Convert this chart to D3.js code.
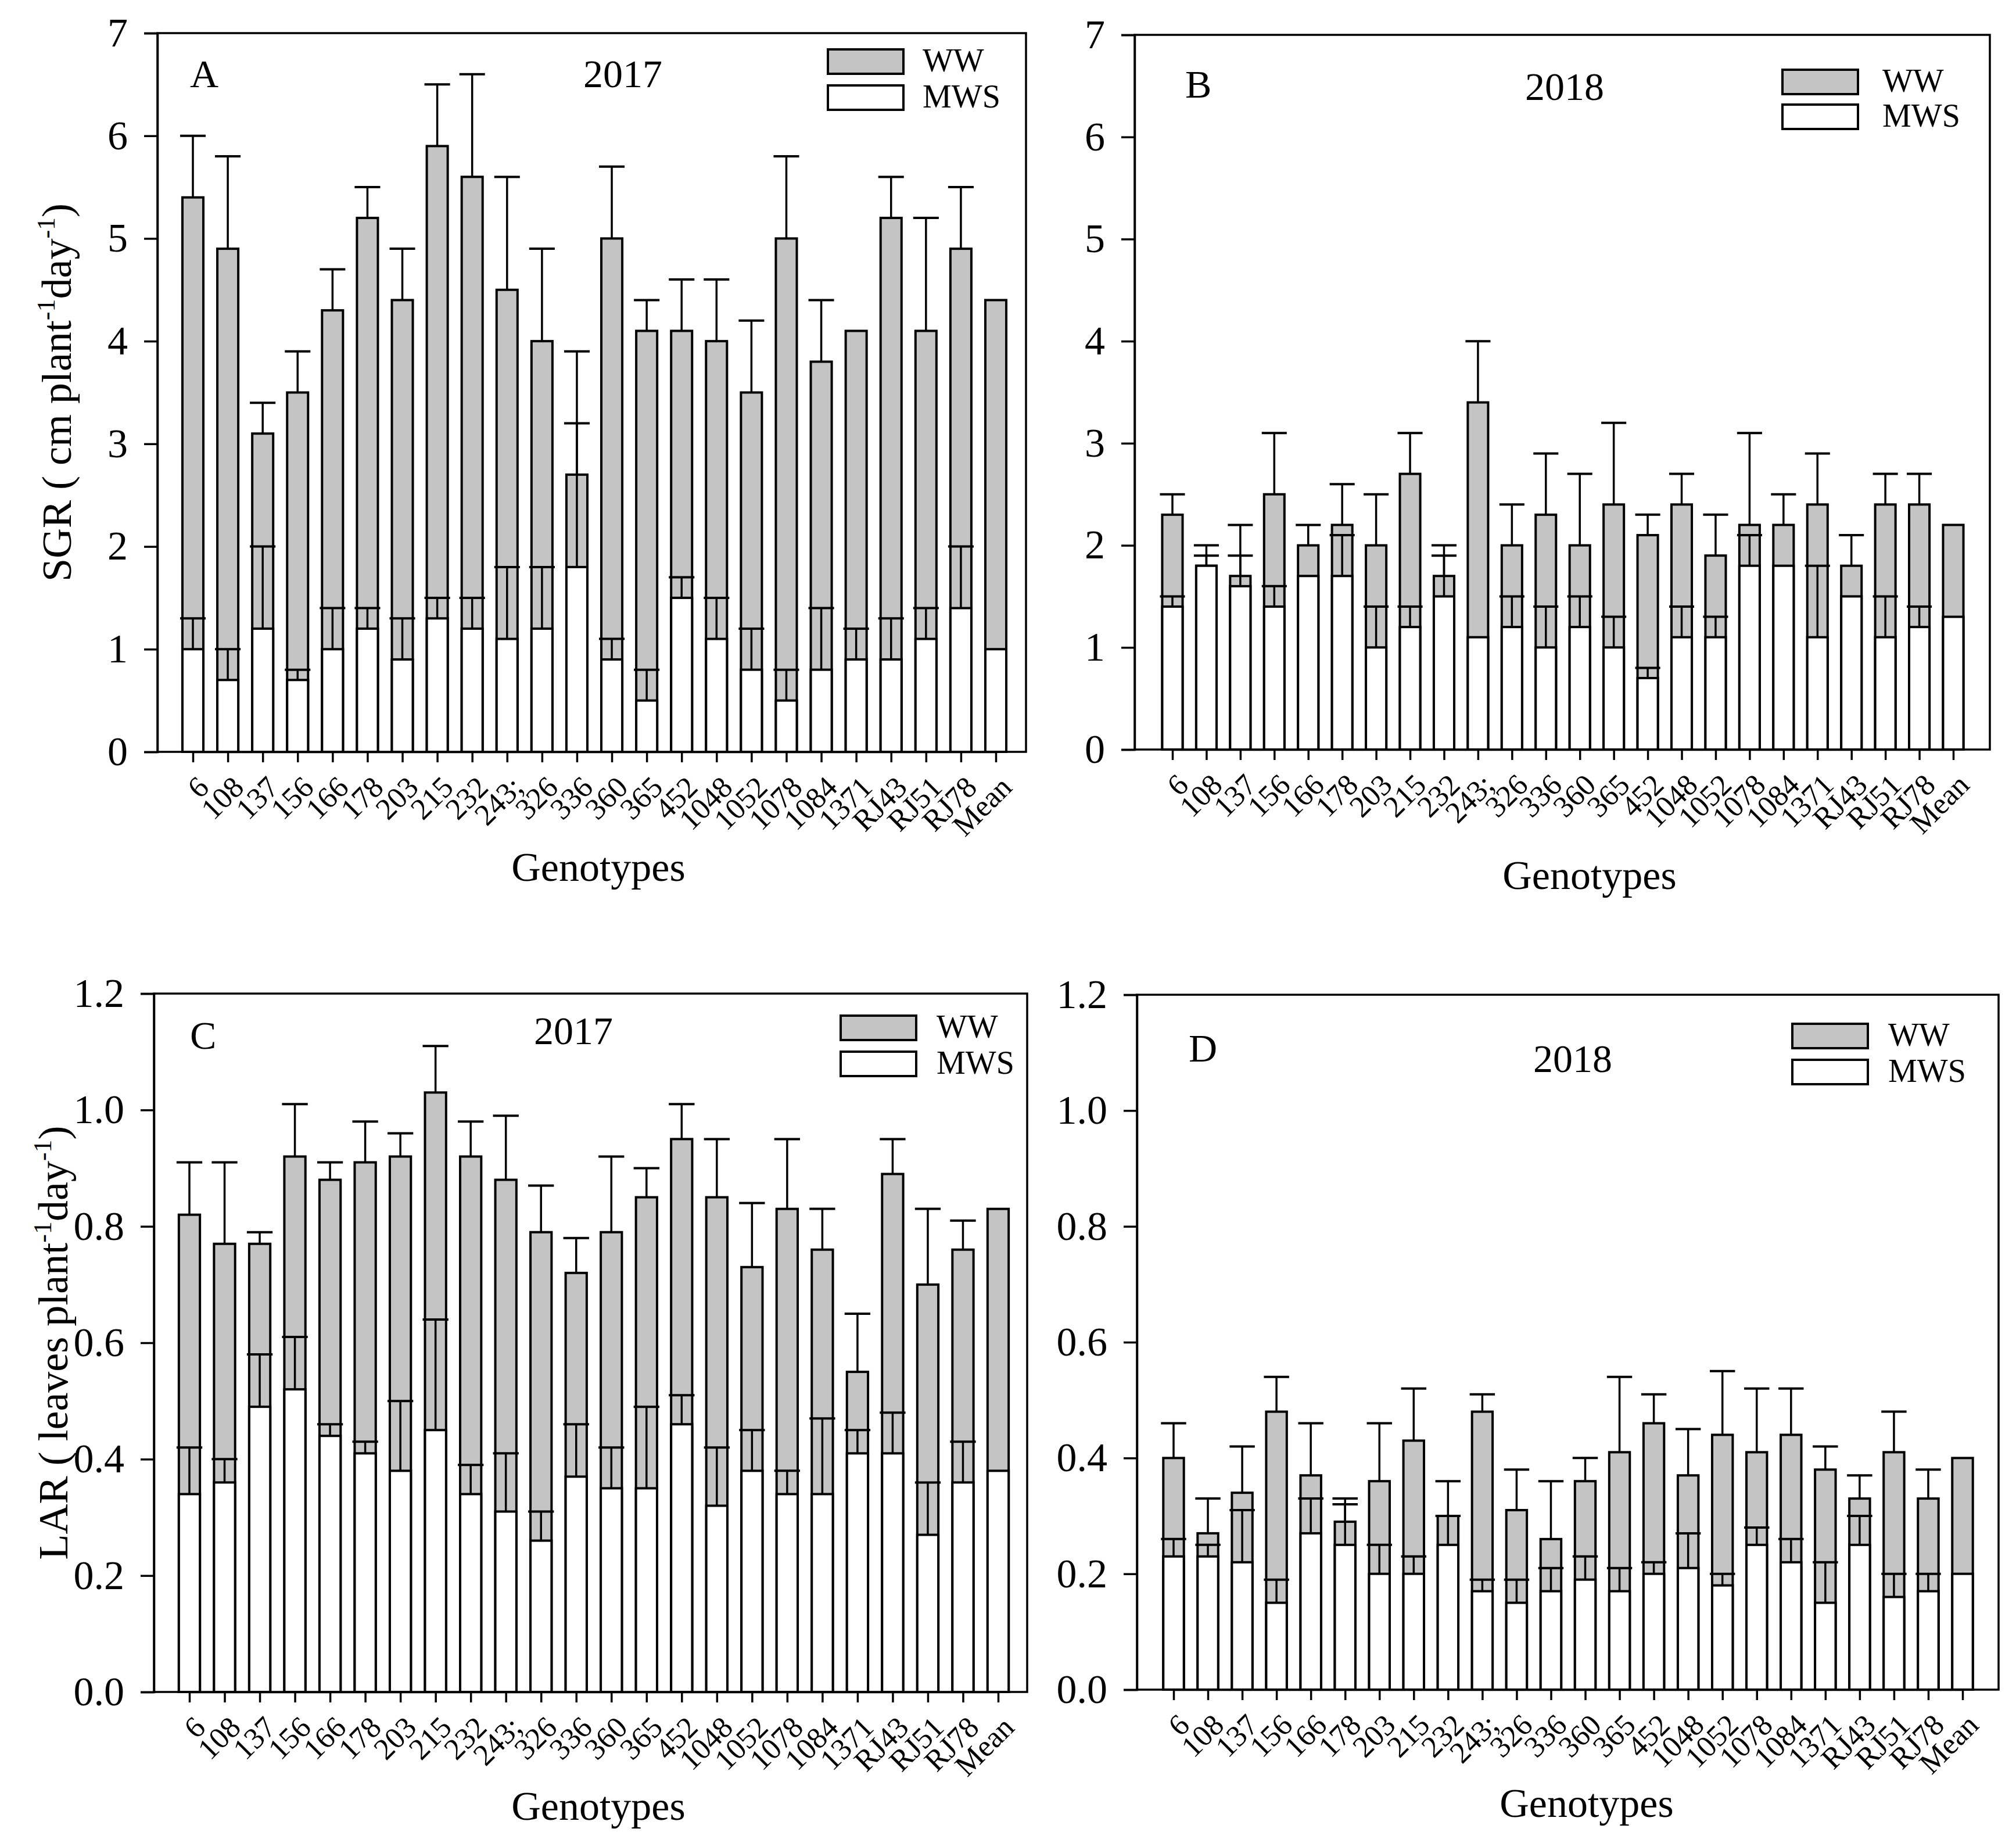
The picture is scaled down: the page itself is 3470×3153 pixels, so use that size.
<!DOCTYPE html>
<html>
<head>
<meta charset="utf-8">
<script src="https://cdn.jsdelivr.net/npm/d3@7"></script>
<style>
html,body{margin:0;padding:0;background:#fff;}
svg text{font-family:'Liberation Serif','Times New Roman',serif;fill:#000;}
</style>
</head>
<body>
<svg id="chart" width="3470" height="3153"></svg>
<script>
// ---------- data ----------
const categories = ["6","108","137","156","166","178","203","215","232","243;","326","336","360","365","452","1048","1052","1078","1084","1371","RJ43","RJ51","RJ78","Mean"];

const sgr2017WW     = [5.4,4.9,3.1,3.5,4.3,5.2,4.4,5.9,5.6,4.5,4.0,2.7,5.0,4.1,4.1,4.0,3.5,5.0,3.8,4.1,5.2,4.1,4.9,4.4];
const sgr2017WWErr  = [0.6,0.9,0.3,0.4,0.4,0.3,0.5,0.6,1.0,1.1,0.9,1.2,0.7,0.3,0.5,0.6,0.7,0.8,0.6,0,0.4,1.1,0.6,0];
const sgr2017MWS    = [1.0,0.7,1.2,0.7,1.0,1.2,0.9,1.3,1.2,1.1,1.2,1.8,0.9,0.5,1.5,1.1,0.8,0.5,0.8,0.9,0.9,1.1,1.4,1.0];
const sgr2017MWSErr = [0.3,0.3,0.8,0.1,0.4,0.2,0.4,0.2,0.3,0.7,0.6,1.4,0.2,0.3,0.2,0.4,0.4,0.3,0.6,0.3,0.4,0.3,0.6,0];

const sgr2018WW     = [2.3,1.8,1.7,2.5,2.0,2.2,2.0,2.7,1.7,3.4,2.0,2.3,2.0,2.4,2.1,2.4,1.9,2.2,2.2,2.4,1.8,2.4,2.4,2.2];
const sgr2018WWErr  = [0.2,0.2,0.5,0.6,0.2,0.4,0.5,0.4,0.3,0.6,0.4,0.6,0.7,0.8,0.2,0.3,0.4,0.9,0.3,0.5,0.3,0.3,0.3,0];
const sgr2018MWS    = [1.4,1.8,1.6,1.4,1.7,1.7,1.0,1.2,1.5,1.1,1.2,1.0,1.2,1.0,0.7,1.1,1.1,1.8,1.8,1.1,1.5,1.1,1.2,1.3];
const sgr2018MWSErr = [0.1,0.1,0.3,0.2,0,0.4,0.4,0.2,0.4,0,0.3,0.4,0.3,0.3,0.1,0.3,0.2,0.3,0,0.7,0,0.4,0.2,0];

const lar2017WW     = [0.82,0.77,0.77,0.92,0.88,0.91,0.92,1.03,0.92,0.88,0.79,0.72,0.79,0.85,0.95,0.85,0.73,0.83,0.76,0.55,0.89,0.70,0.76,0.83];
const lar2017WWErr  = [0.09,0.14,0.02,0.09,0.03,0.07,0.04,0.08,0.06,0.11,0.08,0.06,0.13,0.05,0.06,0.10,0.11,0.12,0.07,0.10,0.06,0.13,0.05,0];
const lar2017MWS    = [0.34,0.36,0.49,0.52,0.44,0.41,0.38,0.45,0.34,0.31,0.26,0.37,0.35,0.35,0.46,0.32,0.38,0.34,0.34,0.41,0.41,0.27,0.36,0.38];
const lar2017MWSErr = [0.08,0.04,0.09,0.09,0.02,0.02,0.12,0.19,0.05,0.10,0.05,0.09,0.07,0.14,0.05,0.10,0.07,0.04,0.13,0.04,0.07,0.09,0.07,0];

const lar2018WW     = [0.40,0.27,0.34,0.48,0.37,0.29,0.36,0.43,0.30,0.48,0.31,0.26,0.36,0.41,0.46,0.37,0.44,0.41,0.44,0.38,0.33,0.41,0.33,0.40];
const lar2018WWErr  = [0.06,0.06,0.08,0.06,0.09,0.04,0.10,0.09,0.06,0.03,0.07,0.10,0.04,0.13,0.05,0.08,0.11,0.11,0.08,0.04,0.04,0.07,0.05,0];
const lar2018MWS    = [0.23,0.23,0.22,0.15,0.27,0.25,0.20,0.20,0.25,0.17,0.15,0.17,0.19,0.17,0.20,0.21,0.18,0.25,0.22,0.15,0.25,0.16,0.17,0.20];
const lar2018MWSErr = [0.03,0.02,0.09,0.04,0.06,0.07,0.05,0.03,0.05,0.02,0.04,0.04,0.04,0.04,0.02,0.06,0.02,0.03,0.04,0.07,0.05,0.04,0.03,0];

const sgrTicks = [0,1,2,3,4,5,6,7];
const larTicks = [0,0.2,0.4,0.6,0.8,1.0,1.2];
const seriesNames = ["WW","MWS"];

// ---------- layout ----------
const FONT = "'Liberation Serif','Times New Roman',serif";
const GREY = "#c4c4c4";
const svg = d3.select("#chart");

const panels = [
  {letter:"A", year:"2017", ww:sgr2017WW, wwErr:sgr2017WWErr, mws:sgr2017MWS, mwsErr:sgr2017MWSErr,
   ticks:sgrTicks, fmt:d3.format("d"), ymax:7, unit:"SGR ( cm plant", unit2:"day",
   left:271, right:1766, top:57, bottom:1294, x0:332, x1:1714,
   letterPos:[327,150], yearPos:[1072,150], legX:1425, legY:[85,147], legText:1588,
   titleX:122, genoPos:[1030,1516]},
  {letter:"B", year:"2018", ww:sgr2018WW, wwErr:sgr2018WWErr, mws:sgr2018MWS, mwsErr:sgr2018MWSErr,
   ticks:sgrTicks, fmt:d3.format("d"), ymax:7, unit:null,
   left:1953, right:3425, top:60, bottom:1290, x0:2018, x1:3362,
   letterPos:[2040,168], yearPos:[2693,172], legX:3068, legY:[120,180], legText:3240,
   titleX:null, genoPos:[2736,1530]},
  {letter:"C", year:"2017", ww:lar2017WW, wwErr:lar2017WWErr, mws:lar2017MWS, mwsErr:lar2017MWSErr,
   ticks:larTicks, fmt:d3.format(".1f"), ymax:1.2, unit:"LAR ( leaves plant", unit2:"day",
   left:265, right:1768, top:1710, bottom:2912, x0:326, x1:1718,
   letterPos:[327,1805], yearPos:[987,1797], legX:1447, legY:[1748,1810], legText:1612,
   titleX:116, genoPos:[1030,3132]},
  {letter:"D", year:"2018", ww:lar2018WW, wwErr:lar2018WWErr, mws:lar2018MWS, mwsErr:lar2018MWSErr,
   ticks:larTicks, fmt:d3.format(".1f"), ymax:1.2, unit:null,
   left:1957, right:3440, top:1712, bottom:2908, x0:2020, x1:3378,
   letterPos:[2046,1827], yearPos:[2707,1845], legX:3085, legY:[1762,1824], legText:3250,
   titleX:null, genoPos:[2731,3127]}
];

panels.forEach(p => {
  const g = svg.append("g");
  const x = d3.scalePoint().domain(categories).range([p.x0, p.x1]);
  const y = d3.scaleLinear().domain([0, p.ymax]).range([p.bottom, p.top]);
  const step = x.step();
  const bw = step * 0.6;
  const capW = bw + 8;

  const rows = categories.map((c,i) => ({c, ww:p.ww[i], wwE:p.wwErr[i], mws:p.mws[i], mwsE:p.mwsErr[i]}));

  // WW bars (grey)
  g.selectAll("rect.ww").data(rows).join("rect")
    .attr("x", d => x(d.c) - bw/2).attr("width", bw)
    .attr("y", d => y(d.ww)).attr("height", d => y(0) - y(d.ww))
    .attr("fill", GREY).attr("stroke","#000").attr("stroke-width",4);
  // MWS bars (white)
  g.selectAll("rect.mws").data(rows).join("rect")
    .attr("x", d => x(d.c) - bw/2).attr("width", bw)
    .attr("y", d => y(d.mws)).attr("height", d => y(0) - y(d.mws))
    .attr("fill", "#fff").attr("stroke","#000").attr("stroke-width",4);

  // error bars
  const errs = [];
  rows.forEach(d => {
    if (d.wwE > 0) errs.push({c:d.c, v:d.ww, e:d.wwE});
    if (d.mwsE > 0) errs.push({c:d.c, v:d.mws, e:d.mwsE});
  });
  g.selectAll("line.ev").data(errs).join("line")
    .attr("x1", d => x(d.c)).attr("x2", d => x(d.c))
    .attr("y1", d => y(d.v)).attr("y2", d => y(d.v + d.e))
    .attr("stroke","#000").attr("stroke-width",3.5);
  g.selectAll("line.ec").data(errs).join("line")
    .attr("x1", d => x(d.c) - capW/2).attr("x2", d => x(d.c) + capW/2)
    .attr("y1", d => y(d.v + d.e)).attr("y2", d => y(d.v + d.e))
    .attr("stroke","#000").attr("stroke-width",4);

  // frame
  g.append("rect").attr("x", p.left).attr("y", p.top)
    .attr("width", p.right - p.left).attr("height", p.bottom - p.top)
    .attr("fill","none").attr("stroke","#000").attr("stroke-width",3.5);

  // y axis
  const yAxis = g.append("g").attr("transform", `translate(${p.left},0)`)
    .call(d3.axisLeft(y).tickValues(p.ticks).tickFormat(p.fmt).tickSize(23).tickPadding(28));
  yAxis.attr("font-family", FONT);
  yAxis.select(".domain").attr("stroke-width",3.5);
  yAxis.selectAll(".tick line").attr("stroke-width",3.5);
  yAxis.selectAll(".tick text").attr("font-family", FONT).style("font-family", FONT).style("font-size","70px");

  // x axis
  const xAxis = g.append("g").attr("transform", `translate(0,${p.bottom})`)
    .call(d3.axisBottom(x).tickSize(18).tickSizeOuter(0));
  xAxis.attr("font-family", FONT);
  xAxis.select(".domain").attr("stroke-width",3.5);
  xAxis.selectAll(".tick line").attr("stroke-width",3.5);
  xAxis.selectAll(".tick text")
    .attr("font-family", FONT).style("font-family", FONT)
    .style("font-size","52px")
    .attr("text-anchor","end")
    .attr("x", 0).attr("y", 0).attr("dy", "0")
    .attr("transform", "translate(30,64) rotate(-45)");

  // panel letter and year
  g.append("text").attr("x", p.letterPos[0]).attr("y", p.letterPos[1]).text(p.letter).style("font-size","68px");
  g.append("text").attr("x", p.yearPos[0]).attr("y", p.yearPos[1]).attr("text-anchor","middle").text(p.year).style("font-size","68px");

  // legend
  const fills = [GREY, "#fff"];
  seriesNames.forEach((n,i) => {
    g.append("rect").attr("x", p.legX).attr("y", p.legY[i]).attr("width",130).attr("height",42)
      .attr("fill", fills[i]).attr("stroke","#000").attr("stroke-width",4);
    g.append("text").attr("x", p.legText).attr("y", p.legY[i] + 38).text(n).style("font-size","56px");
  });

  // x title
  g.append("text").attr("x", p.genoPos[0]).attr("y", p.genoPos[1]).attr("text-anchor","middle")
    .text("Genotypes").style("font-size","70px");

  // y title
  if (p.unit) {
    const cy = (p.top + p.bottom)/2;
    const t = g.append("text").attr("transform", `translate(${p.titleX},${cy}) rotate(-90)`)
      .attr("text-anchor","middle").style("font-size","72px");
    t.append("tspan").text(p.unit);
    t.append("tspan").text("-1").style("font-size","44px").attr("dy","-28");
    t.append("tspan").text(p.unit2).attr("dy","28");
    t.append("tspan").text("-1").style("font-size","44px").attr("dy","-28");
    t.append("tspan").text(")").attr("dy","28");
  }
});
</script>
</body>
</html>
